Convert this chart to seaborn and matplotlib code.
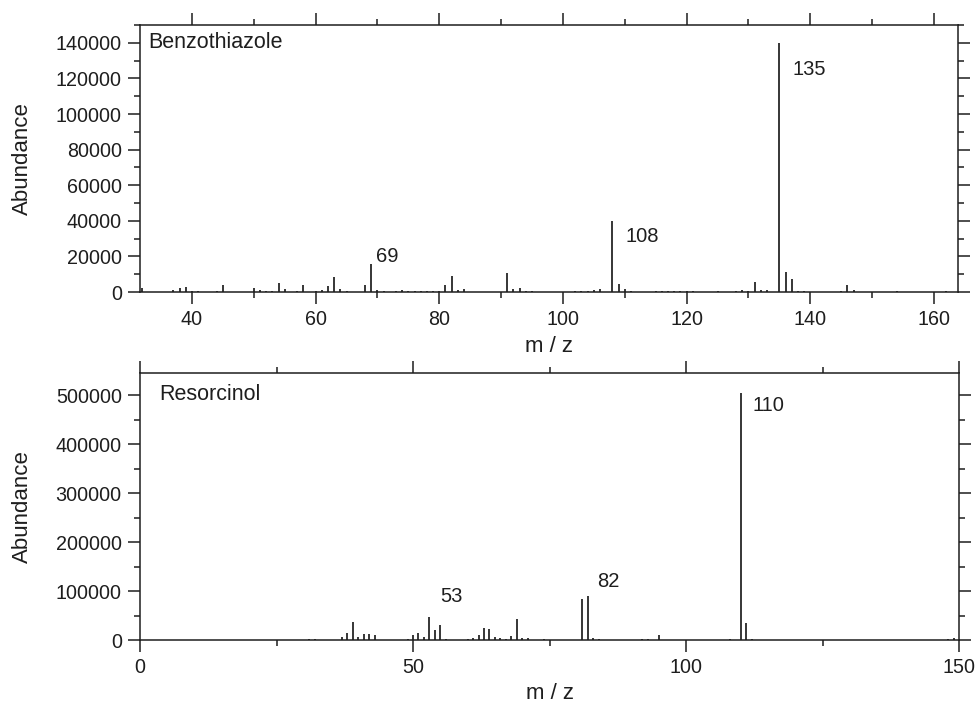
import numpy as np
import pandas as pd
import seaborn as sns
import matplotlib.pyplot as plt
from matplotlib.ticker import MultipleLocator

# Benzothiazole spectrum (m/z, abundance)
bt_mz = [32, 37, 38, 39, 40, 41, 44, 45, 50, 51, 52, 53, 54, 55, 57, 58, 60, 61, 62, 63, 64, 65,
         68, 69, 70, 71, 73, 74, 75, 76, 77, 78, 79, 80, 81, 82, 83, 84, 91, 92, 93, 94, 95,
         102, 103, 104, 105, 106, 108, 109, 110, 111, 115, 116, 117, 118, 119, 120, 121, 125,
         128, 129, 130, 131, 132, 133, 135, 136, 137, 138, 139, 145, 146, 147, 154, 162]
bt_ab = [2400, 1300, 2000, 2800, 700, 500, 600, 3700, 2000, 1000, 700, 600, 5000, 1500, 700, 3900,
         800, 1200, 3300, 8400, 1500, 800, 3700, 15500, 1000, 800, 700, 1200, 700, 500, 600, 500,
         800, 700, 3700, 8800, 1200, 1500, 10700, 1800, 2000, 700, 500,
         500, 500, 700, 1000, 1500, 40000, 4700, 1500, 500, 700, 800, 700, 500, 800, 700, 500, 500,
         700, 1100, 800, 5600, 1100, 1100, 140000, 11400, 7100, 800, 700, 500, 3700, 900, 300, 800]

# Resorcinol spectrum (m/z, abundance)
rs_mz = [31, 32, 37, 38, 39, 40, 41, 42, 43, 49, 50, 51, 52, 53, 54, 55, 56, 60, 61, 62, 63, 64,
         65, 66, 67, 68, 69, 70, 71, 74, 77, 79, 81, 82, 83, 84, 92, 93, 95, 108, 110, 111, 112,
         148, 149]
rs_ab = [1500, 1500, 5400, 13600, 36000, 6800, 11600, 11600, 9500, 2000, 9500, 15000, 6800, 46000,
         21000, 31000, 2000, 1500, 4000, 11000, 24000, 23000, 6800, 4000, 2000, 8800, 43000, 4000,
         5000, 1500, 1000, 1000, 84000, 89000, 5000, 1500, 3000, 1500, 9500, 1500, 505000, 35000,
         3000, 2000, 4000]

# labelled peaks: (m/z, abundance, text offset in points)
bt_labels = [(69, 15500, (3.6, 5.8)), (108, 40000, (9.4, -11.5)), (135, 140000, (9.4, -19.4))]
rs_labels = [(53, 46000, (7.9, 15.1)), (82, 89000, (6.5, 10.8)), (110, 505000, (8.6, -9.4))]

sns.set_theme(style='ticks')
plt.rcParams['font.family'] = ['Liberation Sans', 'DejaVu Sans']
fs_tick = 14.2
fs_axis = 16
fs_name = 15.5
fs_peak = 14.5
ink = '#1e1e1e'

fig = plt.figure(figsize=(9.75, 7.04), dpi=100)
ax1 = fig.add_axes([0.1436, 0.5852, 0.839, 0.3793])
ax2 = fig.add_axes([0.1436, 0.0909, 0.840, 0.3793])


def draw(ax, mz, ab, name, labels, xlim, ylim, xmaj, xmin, ymaj, ymin, name_pos, xlab_y):
    df = pd.DataFrame({'mz': mz, 'ab': ab})
    ax.vlines(df['mz'], 0, df['ab'], color=ink, lw=1.25)
    ax.set_xlim(*xlim)
    ax.set_ylim(*ylim)
    ax.xaxis.set_major_locator(MultipleLocator(xmaj))
    ax.xaxis.set_minor_locator(MultipleLocator(xmin))
    ax.yaxis.set_major_locator(MultipleLocator(ymaj))
    ax.yaxis.set_minor_locator(MultipleLocator(ymin))
    for s in ax.spines.values():
        s.set_visible(True)
        s.set_linewidth(1.1)
        s.set_color(ink)
    ax.tick_params(which='both', direction='out', top=True, right=True, color=ink,
                   width=1.1, labelsize=fs_tick, labelcolor=ink)
    ax.tick_params(which='major', length=8.6, pad=4.5)
    ax.tick_params(which='minor', length=4.3)
    ax.set_xlabel('m / z', fontsize=fs_axis, color=ink)
    ax.set_ylabel('Abundance', fontsize=fs_axis, color=ink)
    ax.xaxis.set_label_coords(0.5, xlab_y)
    ax.yaxis.set_label_coords(-0.131, 0.5)
    ax.text(name_pos[0], name_pos[1], name, transform=ax.transAxes, fontsize=fs_name,
            color=ink, ha='left', va='center')
    for x, y, off in labels:
        ax.annotate(str(x), xy=(x, y), xytext=off, textcoords='offset points',
                    fontsize=fs_peak, color=ink, ha='left', va='center')


draw(ax1, bt_mz, bt_ab, 'Benzothiazole', bt_labels, (31.6, 163.9), (0, 150000),
     20, 10, 20000, 10000, (0.01, 0.933), -0.165)
draw(ax2, rs_mz, rs_ab, 'Resorcinol', rs_labels, (0, 150), (0, 545000),
     50, 25, 100000, 50000, (0.024, 0.918), -0.16)

fig.savefig('out.png', dpi=100)
